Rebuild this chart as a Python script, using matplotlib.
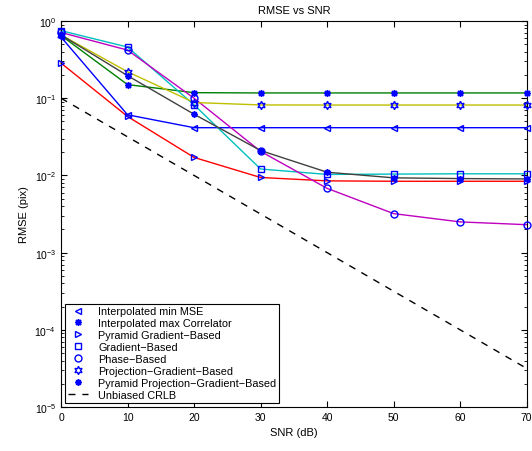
import matplotlib
matplotlib.use('Agg')
import matplotlib.pyplot as plt
from matplotlib.ticker import LogLocator, NullFormatter

# dados
snr = [0, 10, 20, 30, 40, 50, 60, 70]
min_mse = [0.62, 0.061, 0.0415, 0.0415, 0.0415, 0.0415, 0.0415, 0.0415]
max_corr = [0.65, 0.15, 0.118, 0.117, 0.117, 0.117, 0.117, 0.117]
pyr_grad = [0.285, 0.058, 0.0171, 0.0094, 0.0085, 0.0084, 0.0084, 0.0084]
grad = [0.75, 0.46, 0.082, 0.0121, 0.0103, 0.0104, 0.0105, 0.0105]
phase = [0.71, 0.42, 0.1, 0.0205, 0.0068, 0.0032, 0.0025, 0.0023]
proj_grad = [0.66, 0.22, 0.088, 0.0818, 0.0816, 0.0816, 0.0816, 0.0816]
pyr_proj = [0.66, 0.196, 0.062, 0.021, 0.011, 0.0093, 0.0091, 0.009]
crlb = [0.1, 0.0316, 0.01, 0.00316, 0.001, 3.16e-4, 1e-4, 3.16e-5]

plt.rcParams['font.family'] = ['Liberation Sans', 'DejaVu Sans']
plt.rcParams['font.size'] = 7.5

fig = plt.figure(figsize=(5.32, 4.52), dpi=100)
ax = fig.add_axes([0.1147, 0.0973, 0.8753, 0.854])

hexagram = (6, 1, 0)
asterisk = (8, 2, 0)

series = [
    (min_mse, '<', 5, (0, 0, 1), 'Interpolated min MSE', 1.0),
    (max_corr, asterisk, 5, (0, 0.5, 0), 'Interpolated max Correlator', 1.0),
    (pyr_grad, '>', 5, (1, 0, 0), 'Pyramid Gradient\u2212Based', 1.0),
    (grad, 's', 4.5, (0, 0.75, 0.75), 'Gradient\u2212Based', 1.0),
    (phase, 'o', 5, (0.75, 0, 0.75), 'Phase\u2212Based', 1.0),
    (proj_grad, hexagram, 6, (0.75, 0.75, 0), 'Projection\u2212Gradient\u2212Based', 1.0),
    (pyr_proj, asterisk, 4.5, (0.25, 0.25, 0.25), 'Pyramid Projection\u2212Gradient\u2212Based', 1.2),
]

handles = []
for vals, mk, ms, cor, nome, mew in series:
    ax.semilogy(snr, vals, '-', color=cor, lw=1.0, clip_on=False, zorder=2)
    ax.semilogy(snr, vals, linestyle='none', marker=mk, markersize=ms,
                markerfacecolor='none', markeredgecolor='b', markeredgewidth=mew,
                clip_on=False, zorder=3)
    h, = ax.plot([], [], linestyle='none', marker=mk, markersize=ms,
                 markerfacecolor='none', markeredgecolor='b', markeredgewidth=mew,
                 label=nome)
    handles.append(h)

h, = ax.semilogy(snr, crlb, '--', color='k', lw=1.0, dashes=(5, 5), label='Unbiased CRLB')
handles.append(h)

ax.set_xlim(0, 70)
ax.set_ylim(1e-5, 1)
ax.set_xticks([0, 10, 20, 30, 40, 50, 60, 70])
ax.yaxis.set_major_locator(LogLocator(base=10, numticks=10))
ax.yaxis.set_minor_locator(LogLocator(base=10, subs=range(2, 10), numticks=20))
ax.yaxis.set_minor_formatter(NullFormatter())
ax.tick_params(which='both', direction='in', top=True, right=True)
ax.tick_params(which='major', length=4)
ax.tick_params(which='minor', length=2)

ax.set_title('RMSE vs SNR', fontsize=8)
ax.set_xlabel('SNR (dB)', fontsize=8)
ax.set_ylabel('RMSE (pix)', fontsize=8)

leg = ax.legend(handles=handles, loc='lower left', fontsize=7.8, frameon=True,
                fancybox=False, edgecolor='k', framealpha=1,
                handlelength=1.8, handletextpad=1.0, borderpad=0.25,
                labelspacing=0.18, borderaxespad=0.4)
leg.get_frame().set_linewidth(0.8)

plt.savefig('out.png', dpi=100)
